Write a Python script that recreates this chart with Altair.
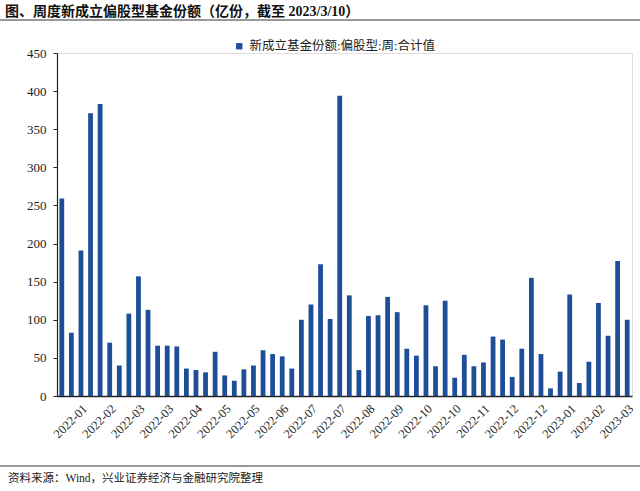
import altair as alt
import pandas as pd

# ---- data ----
values = [259, 83, 191, 371, 383, 70, 40, 108, 157, 113,
          66, 66, 65, 36, 34, 31, 58, 27, 20, 35,
          40, 60, 55, 52, 36, 100, 120, 173, 101, 394,
          132, 34, 105, 106, 130, 110, 62, 53, 119, 39,
          125, 24, 54, 39, 44, 78, 74, 25, 62, 155,
          55, 10, 32, 133, 17, 45, 122, 79, 177, 100]
weeks = list(range(len(values)))
tick_labels = ["2022-01", "2022-02", "2022-03", "2022-03", "2022-04", "2022-05",
               "2022-05", "2022-06", "2022-07", "2022-07", "2022-08", "2022-09",
               "2022-10", "2022-10", "2022-11", "2022-12", "2022-12", "2023-01",
               "2023-02", "2023-03"]
tick_positions = [2 + 3 * i for i in range(len(tick_labels))]
series_name = "新成立基金份额:偏股型:周:合计值"
title_text = "图、周度新成立偏股型基金份额（亿份，截至 2023/3/10）"
source_text = "资料来源：Wind，兴业证券经济与金融研究院整理"

FONT = "Liberation Serif, Noto Sans CJK SC"
BAR = "#1f4e99"

df = pd.DataFrame({"week": weeks, "value": values, "series": series_name})

label_array = "[" + ",".join("'" + s + "'" for s in tick_labels) + "]"
label_expr = label_array + "[(datum.value - 2) / 3]"

bars = alt.Chart(df).mark_bar(color=BAR).encode(
    x=alt.X("week:O",
            scale=alt.Scale(paddingInner=0.5, paddingOuter=0.25),
            axis=alt.Axis(title=None, values=tick_positions, labelExpr=label_expr,
                          labelAngle=-45, labelFont=FONT, labelFontSize=12.5,
                          labelColor="#222", ticks=False, domainColor="#222",
                          domainWidth=1.5, labelPadding=6)),
    y=alt.Y("value:Q",
            scale=alt.Scale(domain=[0, 450], nice=False),
            axis=alt.Axis(title=None, values=list(range(0, 451, 50)), grid=False,
                          labelFont=FONT, labelFontSize=13, labelColor="#222",
                          tickColor="#222", domainColor="#222", tickSize=4,
                          labelPadding=7, domainWidth=1.2)),
    color=alt.Color("series:N",
                    scale=alt.Scale(domain=[series_name], range=[BAR]),
                    legend=alt.Legend(title=None, orient="none", legendX=176, legendY=-13,
                                      symbolType="square", symbolSize=40,
                                      labelFont=FONT, labelFontSize=12.5, labelLimit=0,
                                      labelColor="#222", padding=0, labelOffset=4)),
)

one = alt.Data(values=[{"k": 1}])

title_mark = alt.Chart(one).mark_text(
    text=title_text, align="left", baseline="middle", font=FONT,
    fontSize=14, fontWeight="bold", color="#111"
).encode(x=alt.value(-52), y=alt.value(-41))

title_line = alt.Chart(one).mark_rule(color="#777", strokeWidth=1.5).encode(
    x=alt.value(-57), x2=alt.value(583), y=alt.value(-33))

foot_line = alt.Chart(one).mark_rule(color="#777", strokeWidth=1.5).encode(
    x=alt.value(-57), x2=alt.value(583), y=alt.value(413))

foot_mark = alt.Chart(one).mark_text(
    text=source_text, align="left", baseline="middle", font=FONT,
    fontSize=11.5, color="#222"
).encode(x=alt.value(-49), y=alt.value(426))

chart = alt.layer(bars, title_mark, title_line, foot_line, foot_mark).properties(
    width=575, height=343,
    autosize=alt.AutoSizeParams(type="none"),
    padding={"left": 57, "top": 53, "right": 8, "bottom": 95},
).configure_view(stroke=None).configure(background="white")

chart.save("out.html", embed_options={"renderer": "svg", "actions": False})
